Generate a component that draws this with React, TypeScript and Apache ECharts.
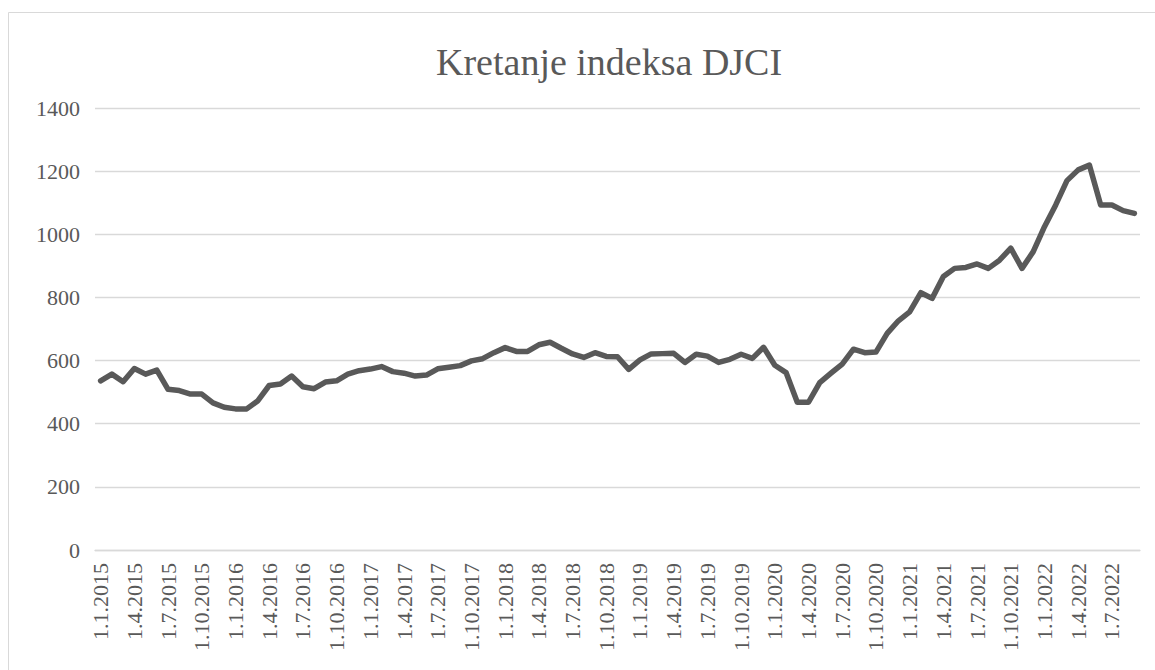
import React, { useEffect, useRef } from "react";
import * as echarts from "echarts";

const years = [2015, 2016, 2017, 2018, 2019, 2020, 2021, 2022];

const categories: string[] = [];
years.forEach((y) => {
  for (let m = 1; m <= 12; m++) {
    if (y === 2022 && m > 9) break;
    categories.push(`1.${m}.${y}`);
  }
});

const values2015 = [536, 557, 533, 575, 557, 570, 509, 505, 494, 494, 466, 452];
const values2016 = [447, 447, 473, 521, 526, 551, 517, 511, 532, 536, 557, 568];
const values2017 = [573, 581, 565, 560, 551, 554, 574, 579, 584, 599, 606, 625];
const values2018 = [641, 629, 629, 650, 658, 639, 621, 610, 625, 613, 612, 572];
const values2019 = [602, 621, 622, 623, 594, 620, 614, 594, 604, 620, 607, 642];
const values2020 = [585, 562, 468, 468, 530, 560, 589, 636, 625, 627, 686, 726];
const values2021 = [754, 815, 797, 866, 892, 895, 906, 892, 918, 956, 892, 945];
const values2022 = [1024, 1093, 1170, 1204, 1219, 1093, 1093, 1075, 1066];

const values = [
  ...values2015,
  ...values2016,
  ...values2017,
  ...values2018,
  ...values2019,
  ...values2020,
  ...values2021,
  ...values2022,
];

const titleText = "Kretanje indeksa DJCI";
const yMin = 0;
const yMax = 1400;
const yStep = 200;

export default function App() {
  const ref = useRef<HTMLDivElement>(null);

  useEffect(() => {
    if (!ref.current) return;
    const chart = echarts.init(ref.current, null, { renderer: "svg" });
    const font = "'Liberation Serif', 'Times New Roman', serif";
    chart.setOption({
      animation: false,
      backgroundColor: "#ffffff",
      textStyle: { fontFamily: font },
      title: {
        text: titleText,
        left: 431,
        top: 38,
        textStyle: {
          fontFamily: font,
          fontSize: 38,
          fontWeight: "normal",
          color: "#595959",
        },
      },
      graphic: [
        {
          type: "rect",
          shape: { x: 8.5, y: 12.5, width: 1170, height: 700 },
          style: { fill: "none", stroke: "#d9d9d9", lineWidth: 1 },
          silent: true,
        },
      ],
      grid: { left: 95, right: 15, top: 108, bottom: 120, containLabel: false },
      xAxis: {
        type: "category",
        data: categories,
        boundaryGap: true,
        axisLine: { lineStyle: { color: "#d9d9d9", width: 1.3 } },
        axisTick: {
          interval: 2,
          length: 6,
          lineStyle: { color: "#d9d9d9", width: 1.3 },
        },
        axisLabel: {
          interval: 2,
          rotate: 90,
          margin: 13,
          fontFamily: font,
          fontSize: 22,
          color: "#595959",
        },
        splitLine: { show: false },
      },
      yAxis: {
        type: "value",
        min: yMin,
        max: yMax,
        interval: yStep,
        axisLine: { show: false },
        axisTick: { show: false },
        axisLabel: {
          margin: 15,
          fontFamily: font,
          fontSize: 22,
          color: "#595959",
          formatter: (v: number) => String(v),
        },
        splitLine: { lineStyle: { color: "#d9d9d9", width: 1.3 } },
      },
      series: [
        {
          type: "line",
          data: values,
          showSymbol: false,
          symbol: "none",
          lineStyle: { color: "#595959", width: 5.5, join: "round", cap: "round" },
          itemStyle: { color: "#595959" },
        },
      ],
    });
    return () => chart.dispose();
  }, []);

  return (
    <div
      ref={ref}
      style={{ position: "fixed", left: 0, top: 0, width: 1155, height: 670 }}
    />
  );
}
